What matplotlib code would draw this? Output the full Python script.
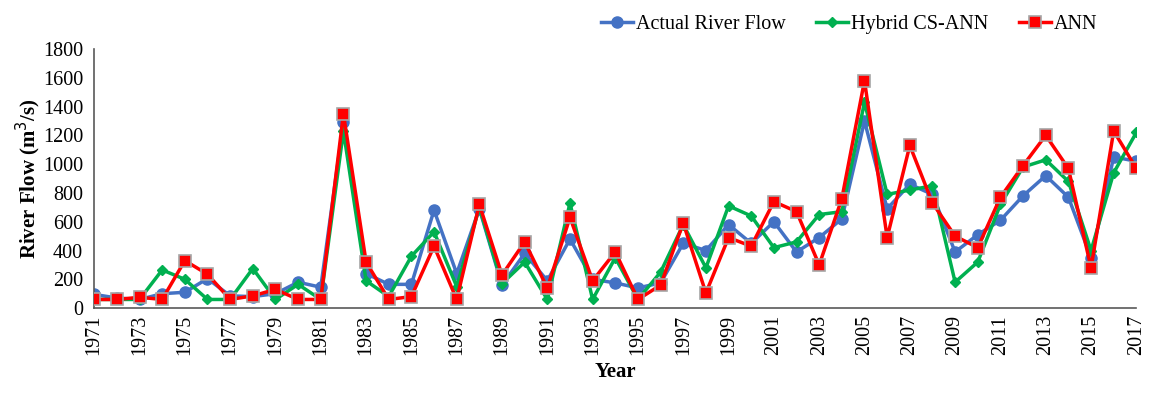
import numpy as np
import matplotlib
matplotlib.use('Agg')
import matplotlib.pyplot as plt

years = list(range(1971, 2018))

actual = [95, 70, 60, 100, 110, 205, 85, 80, 100, 180,
          145, 1290, 240, 165, 165, 680, 240, 690, 160, 380,
          190, 480, 200, 175, 140, 175, 450, 400, 580, 450,
          600, 390, 490, 620, 1300, 690, 860, 790, 390, 510,
          610, 780, 920, 770, 350, 1050, 1020]

hybrid = [60, 60, 60, 265, 200, 60, 60, 275, 60, 165,
          60, 1230, 190, 80, 360, 530, 150, 700, 170, 320,
          60, 730, 60, 350, 60, 250, 580, 280, 710, 640,
          420, 460, 650, 670, 1430, 790, 820, 850, 180, 320,
          720, 980, 1030, 880, 400, 940, 1220]

ann = [60, 60, 75, 60, 330, 235, 60, 85, 130, 60,
       60, 1350, 320, 60, 80, 430, 60, 720, 230, 460,
       140, 630, 190, 390, 60, 160, 590, 105, 490, 430,
       740, 670, 300, 760, 1580, 490, 1130, 730, 500, 420,
       770, 990, 1200, 970, 280, 1230, 970]

plt.rcParams['font.family'] = ['Liberation Serif', 'DejaVu Serif']

fig = plt.figure(figsize=(11.49, 3.95), dpi=100)
ax = fig.add_axes([0.082, 0.22, 0.907, 0.656])

ax.plot(years, actual, color='#4472C4', lw=2.5, marker='o', ms=8,
        label='Actual River Flow', zorder=2)
ax.plot(years, hybrid, color='#00B050', lw=2.5, marker='D', ms=5,
        label='Hybrid CS-ANN', zorder=3)
ax.plot(years, ann, color='#FF0000', lw=2.5, marker='s', ms=8,
        markeredgecolor='#A6A6A6', markeredgewidth=1.2,
        label='ANN', zorder=4)

ax.set_xlim(1971, 2017)
ax.set_ylim(0, 1800)
ax.set_yticks(np.arange(0, 1801, 200))
ax.set_xticks(years[::2])
ax.set_xticklabels([str(y) for y in years[::2]], rotation=90)
ax.tick_params(axis='both', labelsize=14.5, length=0)
ax.tick_params(axis='y', pad=8)
ax.tick_params(axis='x', pad=5)

for s in ['top', 'right']:
    ax.spines[s].set_visible(False)
for s in ['left', 'bottom']:
    ax.spines[s].set_color('#595959')
    ax.spines[s].set_linewidth(1.2)

ax.set_ylabel('River Flow (m$^3$/s)', fontsize=15, fontweight='bold', labelpad=0)
ax.set_xlabel('Year', fontsize=15, fontweight='bold', labelpad=5)

ax.legend(loc='upper right', bbox_to_anchor=(0.98, 1.2), ncol=3, frameon=False,
          fontsize=14.5, handlelength=1.6, columnspacing=1.5, handletextpad=0.15)

fig.savefig('out.png', dpi=100)
